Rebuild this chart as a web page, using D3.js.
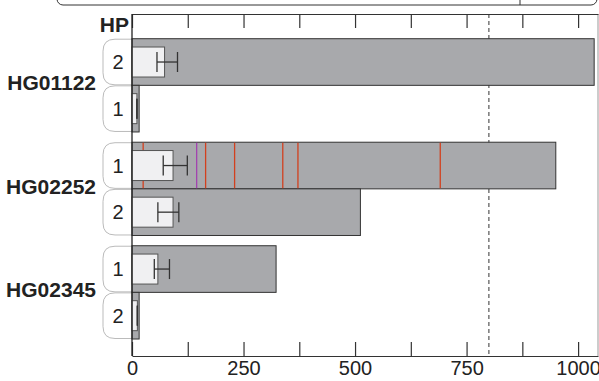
<!DOCTYPE html>
<html>
<head>
<meta charset="utf-8">
<script src="https://cdn.jsdelivr.net/npm/d3@7"></script>
<style>
  body { margin: 0; background: #fff; }
  svg { display: block; font-family: "Liberation Sans", Arial, Helvetica, sans-serif; }
</style>
</head>
<body>
<div id="viz"></div>
<script>
// data
const samples = ["HG01122", "HG02252", "HG02345"]
const rowSample = ["HG01122", "HG01122", "HG02252", "HG02252", "HG02345", "HG02345"]
const rowHP = ["2", "1", "1", "2", "1", "2"]
const totalLength = [1036, 16, 950, 512, 323, 16]
const meanLength = [73, 11, 92, 92, 58, 12]
const errLow = [56, 11, 70, 58, 50, 12]
const errHigh = [102, 11, 124, 105, 84, 12]
// marks inside HG02252 HP 1
const redMarks = [25, 165, 230, 338, 372, 691]
const purpleMarks = [145]
const cutoff = 800
const tickValues = [0, 125, 250, 375, 500, 625, 750, 875, 1000]

const width = 599
const height = 381

const svg = d3.select("#viz").append("svg")
    .attr("width", width)
    .attr("height", height)

// scales
const x = d3.scaleLinear().domain([0, 1044.6]).range([132, 598])
const y = d3.scaleBand().domain(samples).range([38.7, 339]).paddingInner(0.099).paddingOuter(0)
const inner = d3.scaleBand().domain([0, 1]).range([0, y.bandwidth()])

const rows = rowSample.map((s, i) => {
    const idx = rowSample.slice(0, i).filter(v => v === s).length
    return { sample: s, hp: rowHP[i], total: totalLength[i], mean: meanLength[i],
             lo: errLow[i], hi: errHigh[i], y0: y(s) + inner(idx), h: inner.bandwidth() }
})

// legend box cut off at top
svg.append("rect")
    .attr("x", 57).attr("y", -30)
    .attr("width", 540).attr("height", 35)
    .attr("rx", 6)
    .attr("fill", "none").attr("stroke", "#333").attr("stroke-width", 1)
svg.append("line")
    .attr("x1", 520).attr("x2", 520).attr("y1", 0).attr("y2", 5)
    .attr("stroke", "#333")

// right frame line
svg.append("line")
    .attr("x1", 598).attr("x2", 598).attr("y1", 14).attr("y2", 356)
    .attr("stroke", "#999").attr("stroke-width", 1)

// cutoff dashed line
svg.append("line")
    .attr("x1", x(cutoff)).attr("x2", x(cutoff)).attr("y1", 14).attr("y2", 356)
    .attr("stroke", "#555").attr("stroke-width", 1.2)
    .attr("stroke-dasharray", "4,3")

// label boxes left of the bars
const r = 12
svg.selectAll(".hpbox").data(rows).enter().append("path")
    .attr("class", "hpbox")
    .attr("d", d => {
        const x0 = 103, x1 = 132, t = d.y0 + 0.5, b = d.y0 + d.h - 0.5
        return `M${x1},${t} H${x0 + r} Q${x0},${t} ${x0},${t + r} V${b - r} Q${x0},${b} ${x0 + r},${b} H${x1}`
    })
    .attr("fill", "#fff").attr("stroke", "#bbb").attr("stroke-width", 1)

svg.selectAll(".hptext").data(rows).enter().append("text")
    .attr("class", "hptext")
    .attr("x", 118)
    .attr("y", d => d.y0 + d.h / 2 + 7)
    .attr("text-anchor", "middle")
    .attr("font-size", 20)
    .attr("fill", "#222")
    .text(d => d.hp)

// sample labels
svg.selectAll(".sample").data(samples).enter().append("text")
    .attr("class", "sample")
    .attr("x", 96)
    .attr("y", d => y(d) + y.bandwidth() / 2 + 5)
    .attr("text-anchor", "end")
    .attr("font-size", 21)
    .attr("font-weight", "bold")
    .attr("fill", "#222")
    .text(d => d)

svg.append("text")
    .attr("x", 129).attr("y", 32)
    .attr("text-anchor", "end")
    .attr("font-size", 21)
    .attr("font-weight", "bold")
    .attr("fill", "#222")
    .text("HP")

// grey total bars
svg.selectAll(".bar").data(rows).enter().append("rect")
    .attr("class", "bar")
    .attr("x", x(0))
    .attr("y", d => d.y0)
    .attr("width", d => x(d.total) - x(0))
    .attr("height", d => d.h)
    .attr("fill", "#a8a9ac")
    .attr("stroke", "#333").attr("stroke-width", 1)

// marks on HG02252 HP 1
const markRow = rows[2]
svg.selectAll(".redmark").data(redMarks).enter().append("line")
    .attr("class", "redmark")
    .attr("x1", d => x(d)).attr("x2", d => x(d))
    .attr("y1", markRow.y0 + 0.5).attr("y2", markRow.y0 + markRow.h - 0.5)
    .attr("stroke", "#d2401e").attr("stroke-width", 1.3)
svg.selectAll(".purplemark").data(purpleMarks).enter().append("line")
    .attr("class", "purplemark")
    .attr("x1", d => x(d)).attr("x2", d => x(d))
    .attr("y1", markRow.y0 + 0.5).attr("y2", markRow.y0 + markRow.h - 0.5)
    .attr("stroke", "#a23bb0").attr("stroke-width", 1.2)

// white mean boxes
const boxH = 30
svg.selectAll(".mean").data(rows).enter().append("rect")
    .attr("class", "mean")
    .attr("x", x(0))
    .attr("y", d => d.y0 + (d.h - boxH) / 2)
    .attr("width", d => x(d.mean) - x(0))
    .attr("height", boxH)
    .attr("fill", "#f0f0f2")
    .attr("stroke", "#555").attr("stroke-width", 1)

// error bars
const err = svg.selectAll(".err").data(rows).enter().append("g").attr("class", "err")
    .attr("stroke", "#333").attr("stroke-width", 1.3)
err.append("line")
    .attr("x1", d => x(d.lo)).attr("x2", d => x(d.hi))
    .attr("y1", d => d.y0 + d.h / 2).attr("y2", d => d.y0 + d.h / 2)
err.append("line")
    .attr("x1", d => x(d.lo)).attr("x2", d => x(d.lo))
    .attr("y1", d => d.y0 + d.h / 2 - 10).attr("y2", d => d.y0 + d.h / 2 + 10)
err.append("line")
    .attr("x1", d => x(d.hi)).attr("x2", d => x(d.hi))
    .attr("y1", d => d.y0 + d.h / 2 - 10).attr("y2", d => d.y0 + d.h / 2 + 10)

// axes
const bottomAxis = svg.append("g")
    .attr("transform", "translate(0,356)")
    .call(d3.axisBottom(x).tickValues(tickValues).tickSize(-14).tickSizeOuter(0).tickPadding(5)
        .tickFormat(d => d % 250 === 0 ? d : ""))
bottomAxis.selectAll("text").attr("font-size", 20).attr("fill", "#222").attr("font-family", null)
bottomAxis.selectAll("line, path").attr("stroke", "#333").attr("stroke-width", 1.2)

const topAxis = svg.append("g")
    .attr("transform", "translate(0,14)")
    .call(d3.axisTop(x).tickValues(tickValues).tickSize(-14).tickSizeOuter(0).tickFormat(""))
topAxis.selectAll("line, path").attr("stroke", "#333").attr("stroke-width", 1.2)

// left axis line
svg.append("line")
    .attr("x1", x(0)).attr("x2", x(0)).attr("y1", 14).attr("y2", 356)
    .attr("stroke", "#222").attr("stroke-width", 1.3)
</script>
</body>
</html>
